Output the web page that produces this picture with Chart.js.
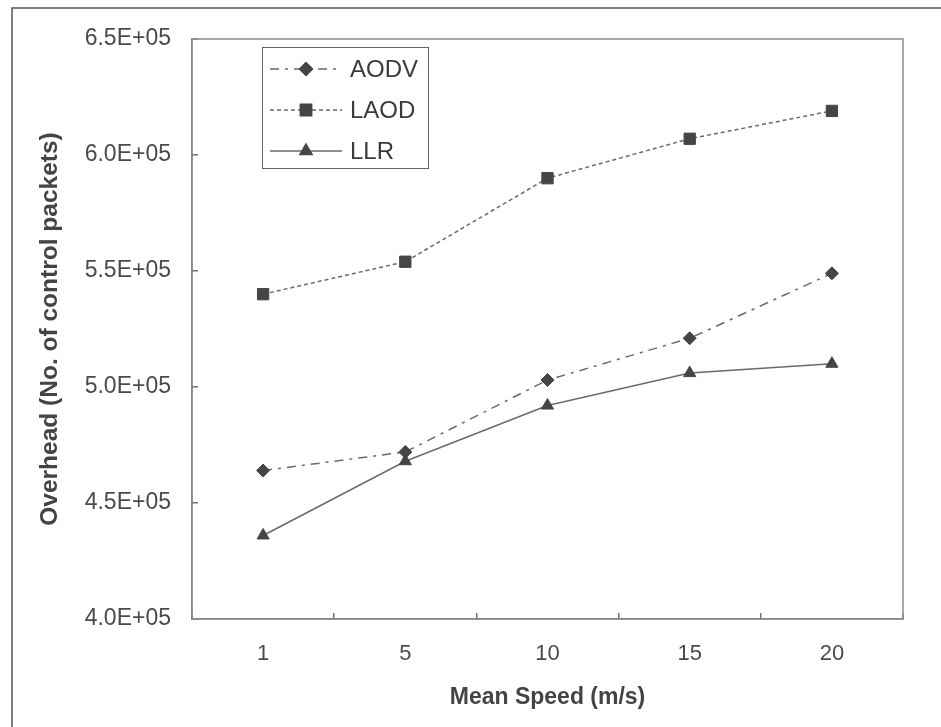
<!DOCTYPE html>
<html>
<head>
<meta charset="utf-8">
<script src="https://cdn.jsdelivr.net/npm/chart.js@4/dist/chart.umd.min.js"></script>
<style>
  html, body { margin: 0; padding: 0; background: #fff; }
  #wrap { width: 941px; height: 727px; }
</style>
</head>
<body>
<div id="wrap"><canvas id="grafico" width="941" height="727"></canvas></div>
<script>
var categorias = ['1', '5', '10', '15', '20'];
var valoresAODV = [464000, 472000, 503000, 521000, 549000];
var valoresLAOD = [540000, 554000, 590000, 607000, 619000];
var valoresLLR = [436000, 468000, 492000, 506000, 510000];
var etiquetasY = ['4.0E+05', '4.5E+05', '5.0E+05', '5.5E+05', '6.0E+05', '6.5E+05'];
var nombresSeries = ['AODV', 'LAOD', 'LLR'];

var colorLinea = '#6a6a6a';
var colorMarca = '#454545';
var fuente = "'Liberation Sans', Arial, sans-serif";

// marco exterior, caja del area de trazado y leyenda
var marcoPlugin = {
    id: 'marco',
    beforeDraw: function(chart) {
        var ctx = chart.ctx;
        ctx.save();
        ctx.fillStyle = '#fff';
        ctx.fillRect(0, 0, chart.width, chart.height);
        ctx.strokeStyle = '#555';
        ctx.lineWidth = 1.5;
        ctx.beginPath();
        ctx.moveTo(12, chart.height);
        ctx.lineTo(12, 8);
        ctx.lineTo(chart.width, 8);
        ctx.stroke();
        ctx.restore();
    },
    afterDraw: function(chart) {
        var ctx = chart.ctx;
        var a = chart.chartArea;
        ctx.save();
        ctx.strokeStyle = '#8c8c8c';
        ctx.lineWidth = 1.5;
        ctx.strokeRect(a.left, a.top, a.right - a.left, a.bottom - a.top);

        // leyenda
        ctx.strokeStyle = '#666';
        ctx.lineWidth = 1;
        ctx.strokeRect(262.5, 47.5, 166, 121);
        chart.data.datasets.forEach(function(ds, i) {
            var y = 69 + i * 41;
            ctx.setLineDash(ds.borderDash || []);
            ctx.strokeStyle = ds.borderColor;
            ctx.lineWidth = ds.borderWidth;
            ctx.beginPath();
            ctx.moveTo(270, y);
            ctx.lineTo(342, y);
            ctx.stroke();
            ctx.setLineDash([]);
            ctx.fillStyle = colorMarca;
            ctx.strokeStyle = colorMarca;
            Chart.helpers.drawPoint(ctx, {
                pointStyle: ds.pointStyle,
                radius: ds.pointRadius,
                borderWidth: 1,
                rotation: 0
            }, 306, y);
            ctx.fillStyle = '#3a3a3a';
            ctx.font = '24px ' + fuente;
            ctx.textAlign = 'left';
            ctx.textBaseline = 'middle';
            ctx.fillText(ds.label, 350, y + 1);
        });
        ctx.restore();
    }
};

var canvasGrafico = document.getElementById('grafico').getContext('2d');

var grafico = new Chart(canvasGrafico, {
    type: 'line',
    data: {
        labels: categorias,
        datasets: [{
            label: nombresSeries[0],
            data: valoresAODV,
            borderColor: colorLinea,
            borderWidth: 1.5,
            borderDash: [9, 6, 3, 6],
            pointStyle: 'rectRot',
            pointRadius: 6.5,
            pointBackgroundColor: colorMarca,
            pointBorderColor: colorMarca,
            pointBorderWidth: 1,
            tension: 0
        }, {
            label: nombresSeries[1],
            data: valoresLAOD,
            borderColor: colorLinea,
            borderWidth: 1.5,
            borderDash: [4, 3],
            pointStyle: 'rect',
            pointRadius: 8,
            pointBackgroundColor: colorMarca,
            pointBorderColor: colorMarca,
            pointBorderWidth: 1,
            tension: 0
        }, {
            label: nombresSeries[2],
            data: valoresLLR,
            borderColor: colorLinea,
            borderWidth: 1.5,
            pointStyle: 'triangle',
            pointRadius: 7,
            pointBackgroundColor: colorMarca,
            pointBorderColor: colorMarca,
            pointBorderWidth: 1,
            tension: 0
        }]
    },
    options: {
        responsive: false,
        animation: false,
        devicePixelRatio: 1,
        layout: {
            padding: { top: 39, right: 38, left: 0, bottom: 0 }
        },
        plugins: {
            legend: { display: false },
            tooltip: { enabled: false }
        },
        scales: {
            x: {
                offset: true,
                grid: {
                    offset: true,
                    drawOnChartArea: false,
                    drawTicks: true,
                    tickLength: -6,
                    color: '#777',
                    lineWidth: 1.5
                },
                border: { color: '#777', width: 1.5 },
                ticks: {
                    color: '#4a4a4a',
                    font: { family: fuente, size: 22 },
                    padding: 28,
                    maxRotation: 0
                },
                title: {
                    display: true,
                    text: 'Mean Speed (m/s)',
                    color: '#444',
                    font: { family: fuente, size: 23, weight: 'bold' },
                    padding: { top: 0, bottom: 16 }
                },
                afterFit: function(scale) {
                    scale.height = 108;
                    scale.paddingLeft = 0;
                    scale.paddingRight = 0;
                }
            },
            y: {
                min: 400000,
                max: 650000,
                grid: {
                    drawOnChartArea: false,
                    drawTicks: true,
                    tickLength: -6,
                    color: '#777',
                    lineWidth: 1.5
                },
                border: { color: '#777', width: 1.5 },
                ticks: {
                    stepSize: 50000,
                    color: '#4a4a4a',
                    font: { family: fuente, size: 23 },
                    padding: 27,
                    callback: function(valor, indice) { return etiquetasY[indice]; }
                },
                title: {
                    display: true,
                    text: 'Overhead (No. of control packets)',
                    color: '#444',
                    font: { family: fuente, size: 24.5, weight: 'bold' },
                    padding: { top: 36, bottom: 0 }
                },
                afterFit: function(scale) {
                    scale.width = 192;
                    scale.paddingTop = 0;
                    scale.paddingBottom = 0;
                }
            }
        }
    },
    plugins: [marcoPlugin]
});
</script>
</body>
</html>
